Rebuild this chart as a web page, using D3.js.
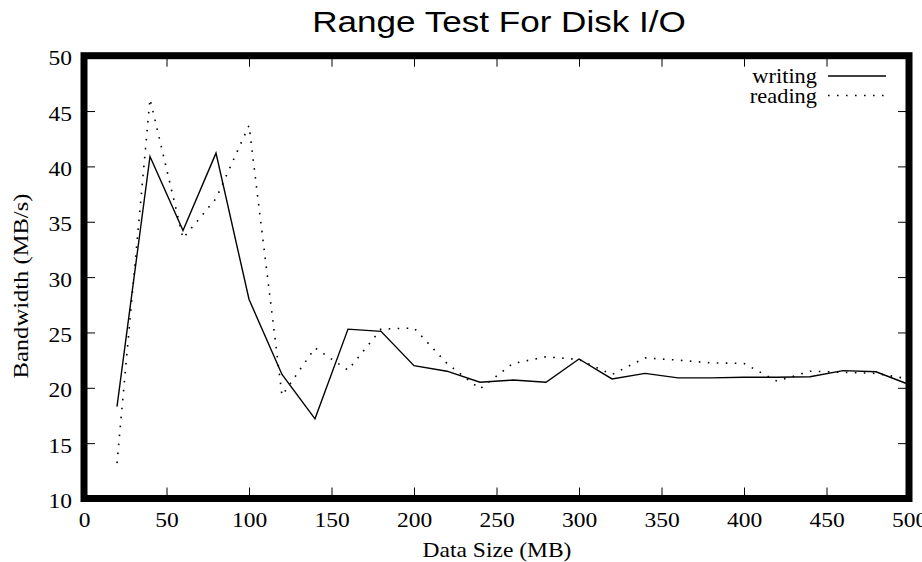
<!DOCTYPE html>
<html>
<head>
<meta charset="utf-8">
<script src="https://cdn.jsdelivr.net/npm/d3@7"></script>
<style>
  html, body { margin: 0; padding: 0; background: #fff; }
  svg { display: block; }
</style>
</head>
<body>
<svg id="chart" width="922" height="562"></svg>
<script>
// ---- data ----
const dataSizes = [20, 40, 60, 80, 100, 120, 140, 160, 180, 200, 220, 240, 260, 280, 300, 320, 340, 360, 380, 400, 420, 440, 460, 480, 500];
const writing = [18.3, 40.9, 34.2, 41.2, 28.0, 21.2, 17.2, 25.3, 25.1, 22.0, 21.5, 20.5, 20.7, 20.5, 22.6, 20.8, 21.3, 20.9, 20.9, 20.95, 20.95, 21.0, 21.55, 21.45, 20.3];
const reading = [13.2, 46.1, 33.5, 37.1, 43.7, 19.3, 23.6, 21.6, 25.3, 25.4, 22.2, 19.9, 22.2, 22.8, 22.55, 21.2, 22.7, 22.5, 22.25, 22.2, 20.6, 21.5, 21.4, 21.3, 20.8];
const seriesNames = ["writing", "reading"];
const xTicks = [0, 50, 100, 150, 200, 250, 300, 350, 400, 450, 500];
const yTicks = [10, 15, 20, 25, 30, 35, 40, 45, 50];
const titleText = "Range Test For Disk I/O";
const xLabel = "Data Size (MB)";
const yLabel = "Bandwidth (MB/s)";

// ---- layout ----
const L = 84, R = 909, T = 55.7, B = 498.5;
const serif = "'Liberation Serif', 'Times New Roman', serif";
const sans = "'Liberation Sans', Arial, sans-serif";
const fs = 21, stretch = 1.12;

const svg = d3.select("#chart");
const x = d3.scaleLinear().domain([0, 500]).range([L, R]);
const y = d3.scaleLinear().domain([10, 50]).range([B, T]);

// axes with inward ticks
const tickLen = 11;
const gB = svg.append("g").attr("transform", `translate(0,${B})`)
  .call(d3.axisBottom(x).tickValues(xTicks).tickSizeInner(-tickLen).tickSizeOuter(0).tickFormat(d3.format("d")));
const gT = svg.append("g").attr("transform", `translate(0,${T})`)
  .call(d3.axisTop(x).tickValues(xTicks).tickSizeInner(-tickLen).tickSizeOuter(0).tickFormat(""));
const gL = svg.append("g").attr("transform", `translate(${L},0)`)
  .call(d3.axisLeft(y).tickValues(yTicks).tickSizeInner(-tickLen).tickSizeOuter(0).tickFormat(d3.format("d")));
const gR = svg.append("g").attr("transform", `translate(${R},0)`)
  .call(d3.axisRight(y).tickValues(yTicks).tickSizeInner(-tickLen).tickSizeOuter(0).tickFormat(""));

[gB, gT, gL, gR].forEach(g => {
  g.select(".domain").remove();
  g.selectAll(".tick line").attr("stroke", "#000").attr("stroke-width", 1);
});
gB.selectAll(".tick text")
  .attr("y", 28.5).attr("dy", null)
  .attr("font-family", serif).attr("font-size", fs).attr("fill", "#000")
  .attr("transform", `scale(${stretch},1)`);
gL.selectAll(".tick text")
  .attr("x", -12 / stretch).attr("y", 9).attr("dy", null)
  .attr("font-family", serif).attr("font-size", fs).attr("fill", "#000")
  .attr("transform", `scale(${stretch},1)`);
gT.selectAll(".tick text").remove();
gR.selectAll(".tick text").remove();

// lines
const line = d3.line().x(d => x(d[0])).y(d => y(d[1]));
const wPts = dataSizes.map((d, i) => [d, writing[i]]);
const rPts = dataSizes.map((d, i) => [d, reading[i]]);
svg.append("path").datum(wPts).attr("d", line)
  .attr("fill", "none").attr("stroke", "#000").attr("stroke-width", 1.4).attr("stroke-linejoin", "miter");
svg.append("path").datum(rPts).attr("d", line)
  .attr("fill", "none").attr("stroke", "#000").attr("stroke-width", 1.6)
  .attr("stroke-dasharray", "1.6,7.4");

// border
svg.append("rect").attr("x", L).attr("y", T).attr("width", R - L).attr("height", B - T)
  .attr("fill", "none").attr("stroke", "#000").attr("stroke-width", 7);

// legend
const legY = [76, 95.5];
const dashes = [null, "1.6,7.4"];
seriesNames.forEach((name, i) => {
  svg.append("text")
    .attr("transform", `translate(817,${legY[i] + 7}) scale(${stretch},1)`)
    .attr("text-anchor", "end").attr("font-family", serif).attr("font-size", 20)
    .text(name);
  svg.append("line").attr("x1", 828).attr("x2", 886).attr("y1", legY[i]).attr("y2", legY[i])
    .attr("stroke", "#000").attr("stroke-width", i === 0 ? 1.4 : 1.6)
    .attr("stroke-dasharray", dashes[i]);
});

// title
svg.append("text")
  .attr("transform", `translate(499,32) scale(1.17,1)`)
  .attr("text-anchor", "middle").attr("font-family", sans).attr("font-size", 30)
  .text(titleText);

// axis labels
svg.append("text")
  .attr("transform", `translate(497,557) scale(${stretch},1)`)
  .attr("text-anchor", "middle").attr("font-family", serif).attr("font-size", fs)
  .text(xLabel);
svg.append("text")
  .attr("transform", `translate(27.5,286) rotate(-90) scale(1.17,1)`)
  .attr("text-anchor", "middle").attr("font-family", serif).attr("font-size", fs)
  .text(yLabel);
</script>
</body>
</html>
